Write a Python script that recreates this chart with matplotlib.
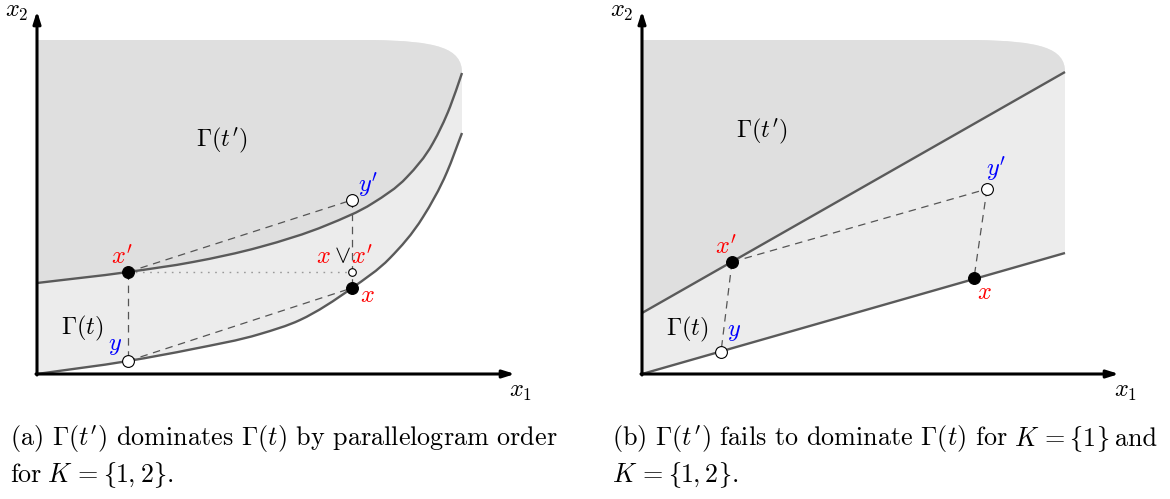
import numpy as np
import matplotlib
matplotlib.use("Agg")
import matplotlib.pyplot as plt
from matplotlib.path import Path
from matplotlib.patches import PathPatch

plt.rcParams["mathtext.fontset"] = "cm"
plt.rcParams["font.family"] = ["cmr10", "DejaVu Serif"]
# the "custom" math set is only used for the caption braces (cmsy10 f/g)
plt.rcParams["mathtext.rm"] = "cmsy10"

# everything below is in picture pixels (x to the right, y downwards)
TOP = 40

# panel (a): boundary curves
A_ORIGIN = (37, 374)
A_RIGHT = 462
A_UPPER_X = [37, 128, 193, 260, 327, 373, 407, 433, 450, 462]
A_UPPER_Y = [283, 272, 262, 247, 225, 203, 177, 143, 107, 73]
A_LOWER_X = [37, 128, 193, 260, 300, 352, 390, 423, 447, 462]
A_LOWER_Y = [374, 361, 349, 334, 320, 288, 258, 217, 172, 133]
A_XP = (128, 272)
A_Y = (128, 361)
A_YP = (352, 200)
A_X = (352, 288)
A_JOIN = (352, 272)

# panel (b): straight boundaries
B_ORIGIN = (642, 374)
B_RIGHT = 1065
B_UPPER_X = [642, 1065]
B_UPPER_Y = [313, 72]
B_LOWER_X = [642, 1065]
B_LOWER_Y = [374, 253]
B_XP = (732, 262)
B_Y = (721, 352)
B_YP = (987, 189)
B_X = (974, 278)

RED = "#ff0000"
BLUE = "#0000ff"
DARK = "#dfdfdf"
LIGHT = "#ececec"
CURVE = "#5a5a5a"
FS = 17.5
CAP_FS = 18.8


def slopes(x, y):
    h = np.diff(x)
    d = np.diff(y) / h
    m = np.empty(len(x))
    m[0], m[-1] = d[0], d[-1]
    for i in range(1, len(x) - 1):
        m[i] = (h[i] * d[i - 1] + h[i - 1] * d[i]) / (h[i - 1] + h[i])
    return m


def smooth_segments(xs, ys):
    """Hermite pieces through the knots, as cubic bezier vertices."""
    x = np.asarray(xs, float)
    y = np.asarray(ys, float)
    m = slopes(x, y)
    verts = []
    for i in range(len(x) - 1):
        h = (x[i + 1] - x[i]) / 3
        verts += [(x[i] + h, y[i] + m[i] * h),
                  (x[i + 1] - h, y[i + 1] - m[i + 1] * h),
                  (x[i + 1], y[i + 1])]
    return verts


def curve_path(xs, ys):
    verts = [(xs[0], ys[0])] + smooth_segments(xs, ys)
    codes = [Path.MOVETO] + [Path.CURVE4] * (len(verts) - 1)
    return Path(verts, codes)


def region_path(x0, right, edge_x, edge_y, corner_end):
    # top edge, rounded corner, down the right side, back along the boundary
    verts = [(x0, TOP), (right - 90, TOP),
             (right - 25, TOP + 1), (right, TOP + 8), (right, corner_end),
             (edge_x[-1], edge_y[-1])]
    codes = [Path.MOVETO, Path.LINETO, Path.CURVE4, Path.CURVE4, Path.CURVE4,
             Path.LINETO]
    seg = curve_path(edge_x, edge_y).vertices[::-1][1:]
    verts += list(map(tuple, seg))
    codes += [Path.CURVE4] * len(seg)
    verts.append((x0, TOP))
    codes.append(Path.CLOSEPOLY)
    return Path(verts, codes)


def draw_panel(ax, origin, right, ux, uy, lx, ly, x_end):
    ax.add_patch(PathPatch(region_path(origin[0], right, lx, ly, uy[-1]),
                           fc=LIGHT, ec="none", zorder=1))
    ax.add_patch(PathPatch(region_path(origin[0], right, ux, uy, uy[-1]),
                           fc=DARK, ec="none", zorder=1.1))
    for xs, ys in [(ux, uy), (lx, ly)]:
        ax.add_patch(PathPatch(curve_path(xs, ys), fc="none", ec=CURVE,
                               lw=1.7, zorder=3, capstyle="butt"))
    arrow = dict(arrowstyle="-|>,head_length=0.7,head_width=0.22",
                 color="black", lw=2.2, shrinkA=0, shrinkB=0)
    ax.annotate("", xy=(x_end, origin[1]), xytext=(origin[0] - 1, origin[1]),
                arrowprops=arrow, zorder=5)
    ax.annotate("", xy=(origin[0], 11), xytext=(origin[0], origin[1] + 1),
                arrowprops=arrow, zorder=5)


def dashed(ax, p, q):
    ax.plot([p[0], q[0]], [p[1], q[1]], color="#555555", lw=0.9,
            dashes=(6, 4.5), zorder=2)


def dot(ax, p, filled, size=8.5):
    ax.plot(p[0], p[1], "o", ms=size, mfc="black" if filled else "white",
            mec="black", mew=0.8, zorder=6)


def label(ax, p, s, color="black", fs=FS):
    ax.text(p[0], p[1], s, color=color, fontsize=fs, ha="center", va="center",
            zorder=7)


def text_run(ax, x, y, pieces):
    # lay text pieces side by side; "{" and "}" are cmsy10's f and g
    renderer = ax.figure.canvas.get_renderer()
    for s, gap in pieces:
        kw = dict(fontsize=CAP_FS, ha="left", va="baseline")
        if s in ("{", "}"):
            kw["math_fontfamily"] = "custom"
            s = r"$\mathrm{f}$" if s == "{" else r"$\mathrm{g}$"
        t = ax.text(x, y, s, **kw)
        x += t.get_window_extent(renderer).width + gap


fig = plt.figure(figsize=(11.7, 4.99), dpi=100)
ax = fig.add_axes([0, 0, 1, 1])
ax.set_xlim(0, 1170)
ax.set_ylim(499, 0)
ax.axis("off")

# ---- panel (a)
draw_panel(ax, A_ORIGIN, A_RIGHT, A_UPPER_X, A_UPPER_Y, A_LOWER_X, A_LOWER_Y, 515)
dashed(ax, A_XP, A_YP)
dashed(ax, A_Y, A_X)
dashed(ax, A_XP, A_Y)
dashed(ax, A_YP, A_X)
ax.plot([A_XP[0], A_JOIN[0]], [A_XP[1], A_JOIN[1]], color="#9a9a9a", lw=1.0,
        dashes=(1.2, 4), zorder=2)
dot(ax, A_XP, True)
dot(ax, A_X, True)
dot(ax, A_Y, False)
dot(ax, A_YP, False)
dot(ax, A_JOIN, False, size=5.5)

label(ax, (17, 12), r"$x_2$")
label(ax, (521, 392), r"$x_1$")
label(ax, (222, 140), r"$\Gamma(t')$")
label(ax, (82, 328), r"$\Gamma(t)$")
label(ax, (122, 257), r"$x'$", RED)
label(ax, (115, 346), r"$y$", BLUE)
label(ax, (368, 185), r"$y'$", BLUE)
label(ax, (367, 296), r"$x$", RED)
label(ax, (323, 257), r"$x$", RED)
label(ax, (342, 256), r"$\vee$")
label(ax, (362, 257), r"$x'$", RED)

# ---- panel (b)
draw_panel(ax, B_ORIGIN, B_RIGHT, B_UPPER_X, B_UPPER_Y, B_LOWER_X, B_LOWER_Y, 1119)
dashed(ax, B_XP, B_YP)
dashed(ax, B_XP, B_Y)
dashed(ax, B_YP, B_X)
dot(ax, B_XP, True)
dot(ax, B_X, True)
dot(ax, B_Y, False)
dot(ax, B_YP, False)

label(ax, (622, 12), r"$x_2$")
label(ax, (1126, 392), r"$x_1$")
label(ax, (762, 131), r"$\Gamma(t')$")
label(ax, (687, 329), r"$\Gamma(t)$")
label(ax, (726, 247), r"$x'$", RED)
label(ax, (734, 332), r"$y$", BLUE)
label(ax, (996, 169), r"$y'$", BLUE)
label(ax, (984, 293), r"$x$", RED)

# ---- captions
ax.text(10, 446, r"(a) $\Gamma(t')$ dominates $\Gamma(t)$ by parallelogram order",
        fontsize=CAP_FS, ha="left", va="baseline")
text_run(ax, 10, 482, [("for", 6), (r"$K$", 5), ("=", 5), ("{", 0),
                       ("1,", 4), ("2", 0), ("}", 0), (".", 0)])
text_run(ax, 612, 446, [(r"(b) $\Gamma(t')$ fails to dominate $\Gamma(t)$ for", 6),
                        (r"$K$", 5), ("=", 5), ("{", 0), ("1", 0), ("}", 6),
                        ("and", 0)])
text_run(ax, 612, 482, [(r"$K$", 5), ("=", 5), ("{", 0), ("1,", 4), ("2", 0),
                        ("}", 0), (".", 0)])

fig.savefig("out.png", dpi=100)
